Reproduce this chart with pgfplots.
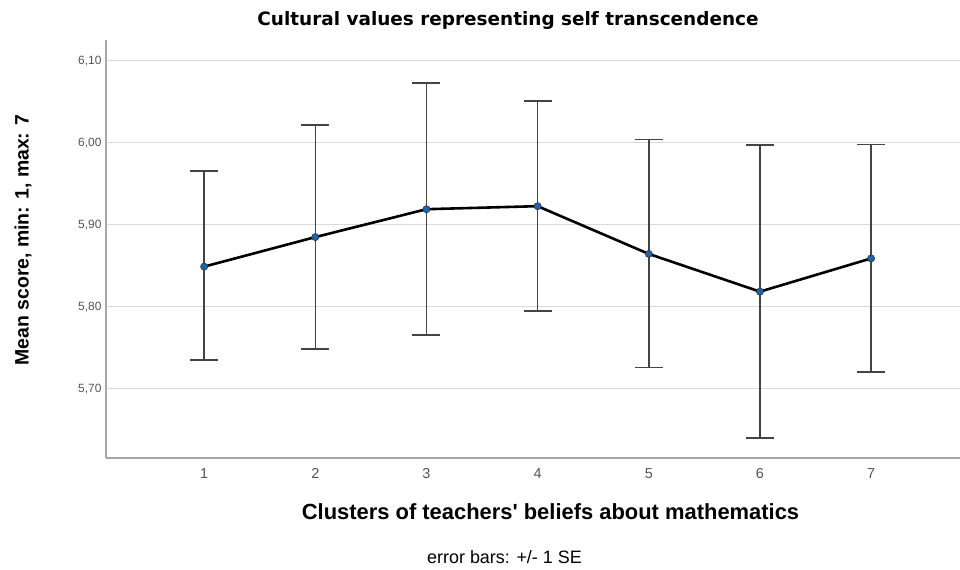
\documentclass[border=0pt]{standalone}
\usepackage{pgfplots}
\pgfplotsset{compat=1.18}
\usepackage{fontspec}
\setmainfont{Liberation Sans}
\newfontfamily\titlefont{DejaVu Sans}
\definecolor{axgray}{HTML}{A6A6A6}
\definecolor{gridgray}{HTML}{D9D9D9}
\definecolor{ebar}{HTML}{444444}
\definecolor{mblue}{HTML}{1F63A8}
\definecolor{tickgray}{HTML}{555555}
\begin{document}
\begin{tikzpicture}[x=1bp,y=1bp]
\path[use as bounding box] (0,0) rectangle (960,570);
\begin{axis}[
  at={(106bp,112bp)}, anchor=south west,
  scale only axis, width=854bp, height=418bp,
  xmin=0.117, xmax=7.8, ymin=5.6157, ymax=6.1253,
  axis x line*=bottom, axis y line*=left,
  axis line style={axgray, line width=1.6bp},
  ymajorgrids, grid style={gridgray, line width=1bp},
  xtick={1,2,3,4,5,6,7},
  ytick={5.7,5.8,5.9,6.0,6.1},
  major tick length=0pt,
  /pgf/number format/assume math mode=true,
  yticklabel style={/pgf/number format/.cd, fixed, fixed zerofill, precision=2, use comma,
    /tikz/.cd, font=\fontsize{12}{14}\selectfont, text=tickgray, xshift=-1bp},
  xticklabel style={font=\fontsize{14.5}{16}\selectfont, text=tickgray, yshift=-7bp},
  clip=false,
]
\addplot[draw=none, mark=none,
  error bars/.cd, y dir=both, y explicit,
  error bar style={ebar, line width=1.5bp},
  error mark options={ebar, line width=1.8bp, mark size=14bp, rotate=90}]
  table[x=x, y=y, y error plus=ep, y error minus=em] {
x y ep em
1 5.849 0.1165 0.1137
2 5.885 0.1368 0.1360
3 5.919 0.1534 0.1530
4 5.9227 0.1280 0.1278
5 5.8645 0.1394 0.1385
6 5.8185 0.1785 0.1782
7 5.859 0.1390 0.1383
};
\addplot[black, line width=2.6bp, mark=*, mark size=3.6bp,
  mark options={fill=mblue, draw=black!80, line width=0.6bp}]
  table[x=x, y=y] {
x y
1 5.849
2 5.885
3 5.919
4 5.9227
5 5.8645
6 5.8185
7 5.859
};
\end{axis}
\node[font=\titlefont\bfseries\fontsize{18.5}{20}\selectfont] at (508,550) {Cultural values representing self transcendence};
\node[font=\bfseries\fontsize{22}{24}\selectfont] at (550.5,58) {Clusters of teachers\textquotesingle\ beliefs about mathematics};
\node[font=\fontsize{18}{20}\selectfont] at (504.5,13) {error bars: +/- 1 SE};
\node[font=\bfseries\fontsize{19.5}{21}\selectfont, rotate=90] at (23,330) {Mean score, min: 1, max: 7};
\end{tikzpicture}
\end{document}
